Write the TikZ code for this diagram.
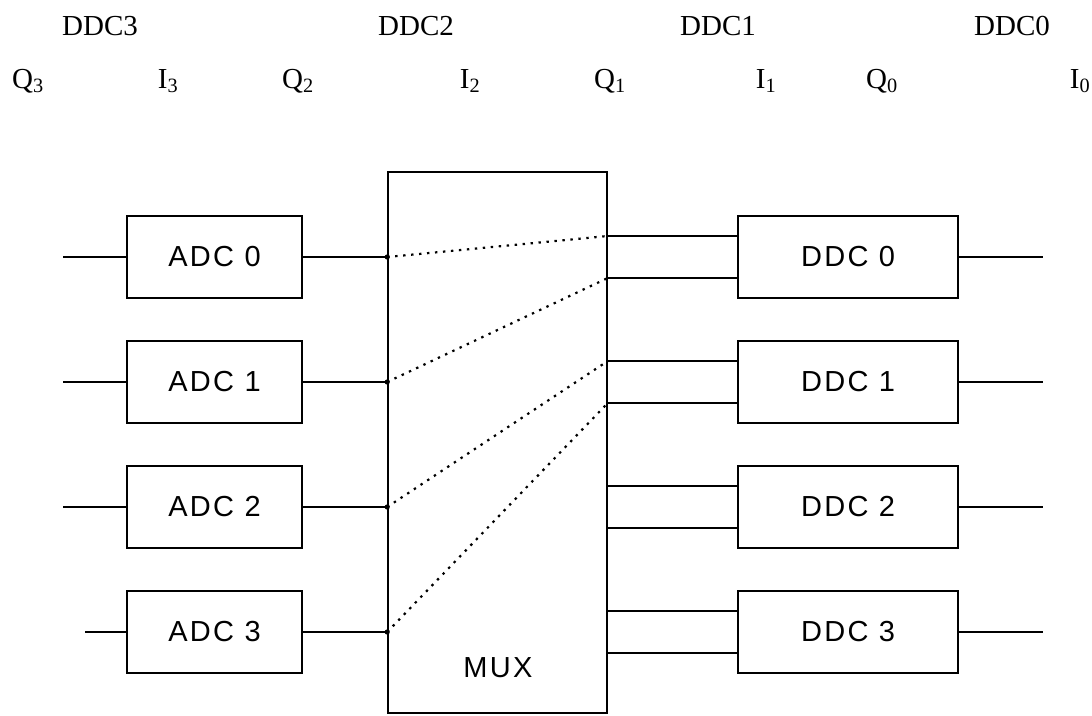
\documentclass[tikz,border=0pt]{standalone}
\usepackage{fontspec}
\setmainfont{Liberation Serif}
\newfontfamily\boxfont[LetterSpace=8]{Liberation Sans}
\usetikzlibrary{positioning}

\tikzset{
  adcbox/.style={draw, line width=1.6pt, minimum width=175pt, minimum height=82pt,
    inner sep=0pt, font=\boxfont\fontsize{29}{32}\selectfont},
  ddcbox/.style={adcbox, minimum width=220pt},
  wire/.style={line width=1.6pt},
  link/.style={line width=2.2pt, dash pattern=on 2.4pt off 5.6pt},
  chan/.style={font=\fontsize{29}{32}\selectfont, anchor=base, inner sep=0pt}
}

\begin{document}
\begin{tikzpicture}[x=1pt, y=-1pt]
      \useasboundingbox (0,0) rectangle (1092,715);
      % channel labels
      \node[chan] (lddc3) at (100,35) {DDC3};
      \node[chan] (lddc2) at (416,35) {DDC2};
      \node[chan] (lddc1) at (718,35) {DDC1};
      \node[chan] (lddc0) at (1012,35) {DDC0};
      \node[chan] (lq3) at (28,88) {Q\textsubscript{3}};
      \node[chan] (li3) at (168,88) {I\textsubscript{3}};
      \node[chan] (lq2) at (298,88) {Q\textsubscript{2}};
      \node[chan] (li2) at (470,88) {I\textsubscript{2}};
      \node[chan] (lq1) at (610,88) {Q\textsubscript{1}};
      \node[chan] (li1) at (766,88) {I\textsubscript{1}};
      \node[chan] (lq0) at (882,88) {Q\textsubscript{0}};
      \node[chan] (li0) at (1080,88) {I\textsubscript{0}};
      % blocks
      \node[draw, line width=1.6pt, minimum width=219pt, minimum height=541pt] (mux) at (497.5,442.5) {};
      \node[font=\boxfont\fontsize{29}{32}\selectfont] (muxname) at (498,668) {MUX};
      \node[adcbox] (adc0) at (214.5,257) {ADC 0};
      \node[adcbox] (adc1) at (214.5,382) {ADC 1};
      \node[adcbox] (adc2) at (214.5,507) {ADC 2};
      \node[adcbox] (adc3) at (214.5,632) {ADC 3};
      \node[ddcbox] (ddc0) at (848,257) {DDC 0};
      \node[ddcbox] (ddc1) at (848,382) {DDC 1};
      \node[ddcbox] (ddc2) at (848,507) {DDC 2};
      \node[ddcbox] (ddc3) at (848,632) {DDC 3};
      % inputs and outputs
      \coordinate (in0) at (63,257);
      \coordinate (in1) at (63,382);
      \coordinate (in2) at (63,507);
      \coordinate (in3) at (85,632);
      \coordinate (out0) at (1043,257);
      \coordinate (out1) at (1043,382);
      \coordinate (out2) at (1043,507);
      \coordinate (out3) at (1043,632);
      \draw[wire] (in0) -- (adc0);
      \draw[wire] (in1) -- (adc1);
      \draw[wire] (in2) -- (adc2);
      \draw[wire] (in3) -- (adc3);
      \draw[wire] (ddc0) -- (out0);
      \draw[wire] (ddc1) -- (out1);
      \draw[wire] (ddc2) -- (out2);
      \draw[wire] (ddc3) -- (out3);
      % adc to mux
      \draw[wire] (adc0) -- (adc0 -| mux.west);
      \draw[wire] (adc1) -- (adc1 -| mux.west);
      \draw[wire] (adc2) -- (adc2 -| mux.west);
      \draw[wire] (adc3) -- (adc3 -| mux.west);
      \fill (adc0 -| mux.west) circle (2.6);
      \fill (adc1 -| mux.west) circle (2.6);
      \fill (adc2 -| mux.west) circle (2.6);
      \fill (adc3 -| mux.west) circle (2.6);
      % mux to ddc
      \coordinate (ddc0a) at ([yshift=21pt]ddc0.west);
      \coordinate (ddc0b) at ([yshift=-21pt]ddc0.west);
      \coordinate (ddc1a) at ([yshift=21pt]ddc1.west);
      \coordinate (ddc1b) at ([yshift=-21pt]ddc1.west);
      \coordinate (ddc2a) at ([yshift=21pt]ddc2.west);
      \coordinate (ddc2b) at ([yshift=-21pt]ddc2.west);
      \coordinate (ddc3a) at ([yshift=21pt]ddc3.west);
      \coordinate (ddc3b) at ([yshift=-21pt]ddc3.west);
      \draw[wire] (ddc0a -| mux.east) -- (ddc0a);
      \draw[wire] (ddc0b -| mux.east) -- (ddc0b);
      \draw[wire] (ddc1a -| mux.east) -- (ddc1a);
      \draw[wire] (ddc1b -| mux.east) -- (ddc1b);
      \draw[wire] (ddc2a -| mux.east) -- (ddc2a);
      \draw[wire] (ddc2b -| mux.east) -- (ddc2b);
      \draw[wire] (ddc3a -| mux.east) -- (ddc3a);
      \draw[wire] (ddc3b -| mux.east) -- (ddc3b);
      % routing inside the mux
      \draw[link] (adc0 -| mux.west) -- (ddc0a -| mux.east);
      \draw[link] (adc1 -| mux.west) -- (ddc0b -| mux.east);
      \draw[link] (adc2 -| mux.west) -- (ddc1a -| mux.east);
      \draw[link] (adc3 -| mux.west) -- (ddc1b -| mux.east);
    \end{tikzpicture}
\end{document}
